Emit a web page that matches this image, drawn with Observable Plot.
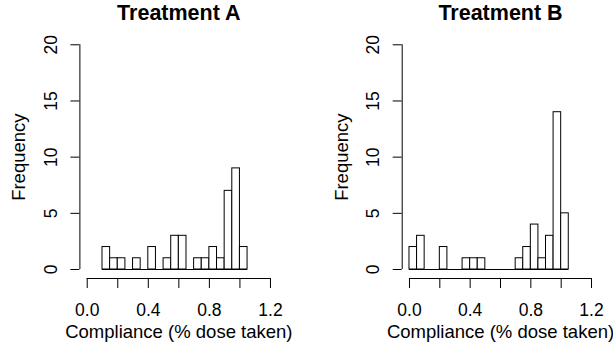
<!DOCTYPE html>
<html><head><meta charset="utf-8">
<script src="https://cdn.jsdelivr.net/npm/d3@7"></script>
<script src="https://cdn.jsdelivr.net/npm/@observablehq/plot@0.6"></script>
<style>
body{margin:0;background:#fff}
#c{display:flex;width:613px;height:349px;background:#fff}
#c svg{display:block;flex:none}
</style>
</head><body><div id="c"></div>
<script>
// ---- data ----
const titles = ["Treatment A", "Treatment B"];
const xLabel = "Compliance (% dose taken)";
const yLabel = "Frequency";
const binWidth = 0.05;
const binStartsA = [0.10,0.15,0.20,0.25,0.30,0.35,0.40,0.45,0.50,0.55,0.60,0.65,0.70,0.75,0.80,0.85,0.90,0.95,1.00];
const countsA    = [2,   1,   1,   0,   1,   0,   2,   0,   1,   3,   3,   0,   1,   1,   2,   1,   7,   9,   2];
const binStartsB = [0.00,0.05,0.10,0.15,0.20,0.25,0.30,0.35,0.40,0.45,0.50,0.55,0.60,0.65,0.70,0.75,0.80,0.85,0.90,0.95,1.00];
const countsB    = [2,   3,   0,   0,   2,   0,   0,   1,   1,   1,   0,   0,   0,   0,   1,   2,   4,   1,   3,   14,  5];
const xTicks = [0, 0.2, 0.4, 0.6, 0.8, 1.0, 1.2];
const xTickLabels = ["0.0", "", "0.4", "", "0.8", "", "1.2"];
const yTicks = [0, 5, 10, 15, 20];

// ---- scale settings (R style 4% padding) ----
const xDomain = [-0.048, 1.248];
const yDomain = [-0.8, 20.8];
const font = "'Liberation Sans', Arial, Helvetica, sans-serif";
const xLabelMap = new Map(xTicks.map((t, i) => [t, xTickLabels[i]]));

function panel(title, starts, counts, width, marginLeft, marginRight) {
  const rows = starts.map((s, i) => ({x1: s, x2: s + binWidth, count: counts[i]}));
  return Plot.plot({
    width, height: 349,
    marginLeft, marginRight, marginTop: 35.3, marginBottom: 71,
    style: {fontFamily: font, fontSize: "17.5px", color: "black", background: "white", overflow: "visible"},
    x: {domain: xDomain},
    y: {domain: yDomain},
    marks: [
      Plot.ruleY([0], {x1: rows[0].x1, x2: rows[rows.length - 1].x2, stroke: "black"}),
      Plot.rectY(rows, {x1: "x1", x2: "x2", y: "count", fill: "white", stroke: "black", strokeWidth: 1}),
      Plot.ruleY([yDomain[0]], {x1: xTicks[0], x2: xTicks[xTicks.length - 1], stroke: "black"}),
      Plot.ruleX([xDomain[0]], {y1: yTicks[0], y2: yTicks[yTicks.length - 1], stroke: "black"}),
      Plot.axisX({anchor: "bottom", ticks: xTicks, tickFormat: d => xLabelMap.get(d), tickSize: 10, tickPadding: 15, fontSize: 17.5, label: null}),
      Plot.axisY({anchor: "left", ticks: yTicks, tickSize: 9, tickRotate: -90, tickPadding: 14, fontSize: 17.5, label: null}),
      Plot.text([title], {frameAnchor: "top", dy: -16.3, lineAnchor: "bottom", fontWeight: "bold", fontSize: 21.5}),
      Plot.text([xLabel], {frameAnchor: "bottom", dy: 59, lineAnchor: "bottom", fontSize: 18.5}),
      Plot.text([yLabel], {frameAnchor: "left", dx: -54.5, rotate: -90, lineAnchor: "bottom", textAnchor: "middle", fontSize: 18.5})
    ]
  });
}

const c = document.getElementById("c");
c.append(panel(titles[0], binStartsA, countsA, 306, 79.4, 28.7));
c.append(panel(titles[1], binStartsB, countsB, 307, 95.7, 14.7));
</script>
</body></html>
